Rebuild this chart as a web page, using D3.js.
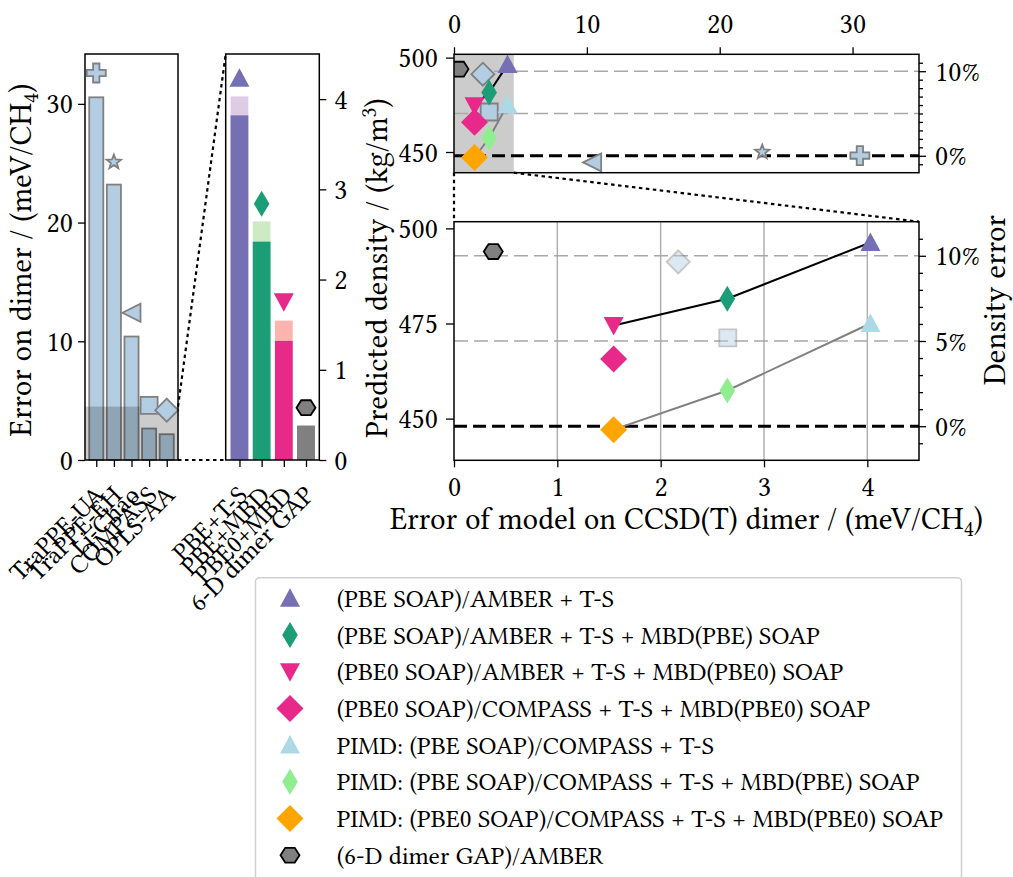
<!DOCTYPE html>
<html>
<head>
<meta charset="utf-8">
<script src="https://cdn.jsdelivr.net/npm/d3@7"></script>
<style>
body { margin: 0; background: #fff; }
</style>
</head>
<body>
<main></main>
<script>
// Force fields (first bar panel)
const ffNames = ['TraPPE-UA', 'TraPPE-EH', 'Li-Chao', 'COMPASS', 'OPLS-AA']
const ffDimerError = [30.55, 23.2, 10.4, 2.65, 2.17]
const ffMarkerError = [32.6, 25.1, 12.4, 4.6, 4.2]
const ffDensity = [448.1, 450.0, 444.5, 471.2, 491.2]

// ML models (second bar panel)
const mlNames = ['PBE+T-S', 'PBE+MBD', 'PBE0+MBD', '6-D dimer GAP']
const mlDimerError = [4.03, 2.645, 1.545, 0.38]
const mlDimerErrorBase = [3.82, 2.42, 1.32, 0.38]
const mlMarkerError = [4.23, 2.84, 1.755, 0.58]

// Density scatter series
const seriesLabels = [
    '(PBE SOAP)/AMBER + T-S',
    '(PBE SOAP)/AMBER + T-S + MBD(PBE) SOAP',
    '(PBE0 SOAP)/AMBER + T-S + MBD(PBE0) SOAP',
    '(PBE0 SOAP)/COMPASS + T-S + MBD(PBE0) SOAP',
    'PIMD: (PBE SOAP)/COMPASS + T-S',
    'PIMD: (PBE SOAP)/COMPASS + T-S + MBD(PBE) SOAP',
    'PIMD: (PBE0 SOAP)/COMPASS + T-S + MBD(PBE0) SOAP',
    '(6-D dimer GAP)/AMBER'
]
const seriesDimerError = [4.03, 2.645, 1.545, 1.545, 4.03, 2.645, 1.545, 0.38]
const seriesDensity = [496.3, 481.5, 474.5, 465.7, 475.0, 457.4, 447.1, 493.9]
const classicalLine = [2, 1, 0]
const pimdLine = [6, 5, 4]
const experimentDensity = 448

// Styles
const seriesColors = ['#7570b3', '#1b9e77', '#e7298a', '#e7298a', '#add8e6', '#90ee90', '#ffa500', '#808080']
const seriesShapes = ['up', 'thin', 'down', 'diamond', 'up', 'thin', 'diamond', 'hex']
const mlColors = ['#7570b3', '#1b9e77', '#e7298a', '#808080']
const mlLightColors = ['#decbe4', '#ccebc5', '#fbb4ae', '#808080']
const mlShapes = ['up', 'thin', 'down', 'hex']
const ffShapes = ['plus', 'star', 'left', 'square', 'ffdiamond']
const ffFill = '#b3cde3'
const ffEdge = '#808080'
const font = '"Libertinus Serif", "Liberation Serif", serif'
const tickFont = 28.5
const categoryFont = 26
const labelFont = 31
const legendFont = 25.4

const shapeSize = {up: 10, down: 10, thin: 13, diamond: 13.5, hex: 9.5,
    plus: 9.5, star: 7.5, left: 9, square: 8.5, ffdiamond: 11.5}

const shape = (type) => {
    const r = shapeSize[type]
    switch (type) {
        case 'up': return `M0,${-r}L${r},${r * 0.85}L${-r},${r * 0.85}Z`
        case 'down': return `M0,${r}L${r},${-r * 0.85}L${-r},${-r * 0.85}Z`
        case 'left': return `M${-r},0L${r},${-r}L${r},${r}Z`
        case 'diamond':
        case 'ffdiamond': return `M0,${-r}L${r},0L0,${r}L${-r},0Z`
        case 'thin': return `M0,${-r}L${r * 0.6},0L0,${r}L${-r * 0.6},0Z`
        case 'square': return `M${-r},${-r}H${r}V${r}H${-r}Z`
        case 'hex': return d3.range(6).map(k => {
            const a = k * Math.PI / 3
            return `${k ? 'L' : 'M'}${r * Math.cos(a)},${r * Math.sin(a) * 0.9}`
        }).join('') + 'Z'
        case 'plus': {
            const a = r / 3
            return `M${-a},${-r}H${a}V${-a}H${r}V${a}H${a}V${r}H${-a}V${a}H${-r}V${-a}H${-a}Z`
        }
        case 'star': return d3.range(10).map(k => {
            const a = -Math.PI / 2 + k * Math.PI / 5
            const rr = k % 2 ? r * 0.42 : r
            return `${k ? 'L' : 'M'}${rr * Math.cos(a)},${rr * Math.sin(a)}`
        }).join('') + 'Z'
    }
}

const svg = d3.select('main')
    .append('svg')
    .attr('width', 1013)
    .attr('height', 877)
    .attr('font-family', font)

const defs = svg.append('defs')

const styleAxis = (g) => {
    g.select('.domain').remove()
    g.attr('font-family', font).attr('font-size', tickFont)
    g.selectAll('.tick line').attr('stroke', '#000').attr('stroke-width', 1.3)
    g.selectAll('.tick text').attr('fill', '#000')
}

const frame = (g, x0, x1, y0, y1) => g.append('rect')
    .attr('x', x0).attr('y', y0)
    .attr('width', x1 - x0).attr('height', y1 - y0)
    .attr('fill', 'none').attr('stroke', '#000').attr('stroke-width', 1.5)

const marker = (g, type, x, y, fill, stroke, sw) => g.append('path')
    .attr('d', shape(type))
    .attr('transform', `translate(${x},${y})`)
    .attr('fill', fill)
    .attr('stroke', stroke || 'none')
    .attr('stroke-width', sw || 0)

// category names, rotated 45 degrees and right-aligned under each tick
const rotatedLabels = (g, names, x, bottom) => {
    g.selectAll(null)
        .data(names)
        .enter()
        .append('text')
        .attr('font-size', categoryFont)
        .attr('text-anchor', 'end')
        .attr('transform', (d, i) => `translate(${x(i) + 9.5},${bottom + 36.5}) rotate(-45)`)
        .text(d => d)
}

const subLabel = (t, main, sub, close, shift) => {
    t.append('tspan').text(main)
    t.append('tspan').attr('font-size', labelFont * 0.7).attr('dy', shift).text(sub)
    t.append('tspan').attr('dy', -shift).text(close)
}

// Panel 1: force-field dimer errors
const p1 = {left: 85, right: 178, top: 54, bottom: 460}
const x1 = d3.scaleLinear().domain([-0.64, 4.64]).range([p1.left, p1.right])
const y1 = d3.scaleLinear().domain([0, 34.2]).range([p1.bottom, p1.top])
const g1 = svg.append('g')
const bw1 = x1(0.8) - x1(0)

g1.selectAll('rect.bar')
    .data(ffDimerError)
    .enter()
    .append('rect')
    .attr('x', (d, i) => x1(i) - bw1 / 2)
    .attr('y', d => y1(d))
    .attr('width', bw1)
    .attr('height', d => y1(0) - y1(d))
    .attr('fill', ffFill)
    .attr('stroke', ffEdge)
    .attr('stroke-width', 1.8)

g1.append('rect')
    .attr('x', p1.left).attr('y', y1(4.5))
    .attr('width', p1.right - p1.left).attr('height', y1(0) - y1(4.5))
    .attr('fill', '#000').attr('fill-opacity', 0.2)

ffMarkerError.forEach((v, i) => marker(g1, ffShapes[i], x1(i), y1(v), ffFill, ffEdge, 1.8))
frame(g1, p1.left, p1.right, p1.top, p1.bottom)

g1.append('g')
    .attr('transform', `translate(${p1.left},0)`)
    .call(d3.axisLeft(y1).tickValues([0, 10, 20, 30]).tickSize(7).tickPadding(5).tickFormat(d3.format('d')))
    .call(styleAxis)
g1.append('g')
    .attr('transform', `translate(0,${p1.bottom})`)
    .call(d3.axisBottom(x1).tickValues(d3.range(ffNames.length)).tickSize(7).tickFormat(''))
    .call(styleAxis)
rotatedLabels(g1, ffNames, x1, p1.bottom)

g1.append('text')
    .attr('transform', `translate(31,${(p1.top + p1.bottom) / 2 + 3}) rotate(-90)`)
    .attr('text-anchor', 'middle')
    .attr('font-size', labelFont)
    .call(subLabel, 'Error on dimer / (meV/CH', '4', ')', 7)

// Panel 2: ML model dimer errors
const p2 = {left: 225.7, right: 319.3, top: 54, bottom: 460}
const x2 = d3.scaleLinear().domain([-0.62, 3.6]).range([p2.left, p2.right])
const y2 = d3.scaleLinear().domain([0, 4.5]).range([p2.bottom, p2.top])
const g2 = svg.append('g')
const bw2 = x2(0.8) - x2(0)

g2.selectAll('rect.light')
    .data(mlDimerError)
    .enter()
    .append('rect')
    .attr('x', (d, i) => x2(i) - bw2 / 2)
    .attr('y', d => y2(d))
    .attr('width', bw2)
    .attr('height', d => y2(0) - y2(d))
    .attr('fill', (d, i) => mlLightColors[i])

g2.selectAll('rect.dark')
    .data(mlDimerErrorBase)
    .enter()
    .append('rect')
    .attr('x', (d, i) => x2(i) - bw2 / 2)
    .attr('y', d => y2(d))
    .attr('width', bw2)
    .attr('height', d => y2(0) - y2(d))
    .attr('fill', (d, i) => mlColors[i])

mlMarkerError.forEach((v, i) => marker(g2, mlShapes[i], x2(i), y2(v), mlColors[i],
    mlShapes[i] === 'hex' ? '#000' : null, 1.8))
frame(g2, p2.left, p2.right, p2.top, p2.bottom)

g2.append('g')
    .attr('transform', `translate(${p2.right},0)`)
    .call(d3.axisRight(y2).tickValues([0, 1, 2, 3, 4]).tickSize(7).tickPadding(8).tickFormat(d3.format('d')))
    .call(styleAxis)
g2.append('g')
    .attr('transform', `translate(0,${p2.bottom})`)
    .call(d3.axisBottom(x2).tickValues(d3.range(mlNames.length)).tickSize(7).tickFormat(''))
    .call(styleAxis)
rotatedLabels(g2, mlNames, x2, p2.bottom)

// zoom connectors between the bar panels
const dotted = (xa, ya, xb, yb) => svg.append('line')
    .attr('x1', xa).attr('y1', ya).attr('x2', xb).attr('y2', yb)
    .attr('stroke', '#000').attr('stroke-width', 2.2)
    .attr('stroke-dasharray', '3.5,3.5')
dotted(p1.right, y1(4.5), p2.left, p2.top)
dotted(p1.right, p1.bottom, p2.left, p2.bottom)

// Panels 3 and 4: predicted density
const yDomain = [experimentDensity * 0.98, experimentDensity * 1.12]
const p3 = {left: 454, right: 919, top: 54.3, bottom: 172.7}
const p4 = {left: 454, right: 919, top: 221.7, bottom: 460.3}
const x3 = d3.scaleLinear().domain([0, 35]).range([p3.left, p3.right])
const y3 = d3.scaleLinear().domain(yDomain).range([p3.bottom, p3.top])
const x4 = d3.scaleLinear().domain([0, 4.5]).range([p4.left, p4.right])
const y4 = d3.scaleLinear().domain(yDomain).range([p4.bottom, p4.top])

const clipped = (p, id) => {
    defs.append('clipPath').attr('id', id)
        .append('rect')
        .attr('x', p.left).attr('y', p.top)
        .attr('width', p.right - p.left).attr('height', p.bottom - p.top)
    return svg.append('g').attr('clip-path', `url(#${id})`)
}

const refLines = (g, p, y) => {
    [10, 5].forEach(pc => g.append('line')
        .attr('x1', p.left).attr('x2', p.right)
        .attr('y1', y(experimentDensity * (1 + pc / 100)))
        .attr('y2', y(experimentDensity * (1 + pc / 100)))
        .attr('stroke', '#a8a8a8').attr('stroke-width', 1.5)
        .attr('stroke-dasharray', '14,6'))
    g.append('line')
        .attr('x1', p.left).attr('x2', p.right)
        .attr('y1', y(experimentDensity)).attr('y2', y(experimentDensity))
        .attr('stroke', '#000').attr('stroke-width', 3)
        .attr('stroke-dasharray', '13,6')
}

const seriesLines = (g, x, y) => {
    const line = d3.line().x(i => x(seriesDimerError[i])).y(i => y(seriesDensity[i]))
    g.append('path').datum(classicalLine).attr('d', line)
        .attr('fill', 'none').attr('stroke', '#000').attr('stroke-width', 2)
    g.append('path').datum(pimdLine).attr('d', line)
        .attr('fill', 'none').attr('stroke', '#808080').attr('stroke-width', 2)
}

const seriesMarkers = (g, x, y) => seriesDensity.forEach((v, i) =>
    marker(g, seriesShapes[i], x(seriesDimerError[i]), y(v), seriesColors[i],
        seriesShapes[i] === 'hex' ? '#000' : null, 1.8))

const percentAxis = (g, p, y, majors) => {
    const pct = d3.scaleLinear().domain([-2, 12]).range(y.range())
    g.append('g')
        .attr('transform', `translate(${p.right},0)`)
        .call(d3.axisRight(pct).tickValues(majors).tickSize(7).tickPadding(9).tickFormat(d => d + '%'))
        .call(styleAxis)
    g.append('g')
        .attr('transform', `translate(${p.right},0)`)
        .call(d3.axisRight(pct).tickValues(d3.range(-1, 12).filter(d => !majors.includes(d))).tickSize(4).tickFormat(''))
        .call(styleAxis)
}

// top overview panel
const g3 = clipped(p3, 'clip3')
g3.append('rect')
    .attr('x', x3(0)).attr('y', p3.top)
    .attr('width', x3(4.5) - x3(0)).attr('height', p3.bottom - p3.top)
    .attr('fill', '#000').attr('fill-opacity', 0.2)
refLines(g3, p3, y3)
seriesLines(g3, x3, y3)
ffDensity.forEach((v, i) => marker(g3, ffShapes[i], x3(ffDimerError[i]), y3(v), ffFill, ffEdge, 1.8))
seriesMarkers(g3, x3, y3)

const a3 = svg.append('g')
frame(a3, p3.left, p3.right, p3.top, p3.bottom)
a3.append('g')
    .attr('transform', `translate(0,${p3.top})`)
    .call(d3.axisTop(x3).tickValues([0, 10, 20, 30]).tickSize(7).tickPadding(14).tickFormat(d3.format('d')))
    .call(styleAxis)
a3.append('g')
    .attr('transform', `translate(${p3.left},0)`)
    .call(d3.axisLeft(y3).tickValues([450, 500]).tickSize(8).tickPadding(8).tickFormat(d3.format('d')))
    .call(styleAxis)
percentAxis(a3, p3, y3, [0, 10])

// zoomed panel
const g4 = clipped(p4, 'clip4')
g4.selectAll('line.grid')
    .data([1, 2, 3, 4])
    .enter()
    .append('line')
    .attr('x1', d => x4(d)).attr('x2', d => x4(d))
    .attr('y1', p4.top).attr('y2', p4.bottom)
    .attr('stroke', '#b0b0b0').attr('stroke-width', 1.5)
refLines(g4, p4, y4)
seriesLines(g4, x4, y4)
ffDensity.forEach((v, i) => marker(g4, ffShapes[i], x4(ffDimerError[i]), y4(v), ffFill, ffEdge, 1.8)
    .attr('opacity', 0.45))
seriesMarkers(g4, x4, y4)

const a4 = svg.append('g')
frame(a4, p4.left, p4.right, p4.top, p4.bottom)
a4.append('g')
    .attr('transform', `translate(0,${p4.bottom})`)
    .call(d3.axisBottom(x4).tickValues([0, 1, 2, 3, 4]).tickSize(7).tickPadding(8).tickFormat(d3.format('d')))
    .call(styleAxis)
a4.append('g')
    .attr('transform', `translate(${p4.left},0)`)
    .call(d3.axisLeft(y4).tickValues([450, 475, 500]).tickSize(8).tickPadding(8).tickFormat(d3.format('d')))
    .call(styleAxis)
percentAxis(a4, p4, y4, [0, 5, 10])

// zoom connectors between density panels
dotted(x3(0), p3.bottom, p4.left, p4.top)
dotted(x3(4.5), p3.bottom, p4.right, p4.top)

svg.append('text')
    .attr('x', (p4.left + p4.right) / 2)
    .attr('y', 529)
    .attr('text-anchor', 'middle')
    .attr('font-size', labelFont)
    .call(subLabel, 'Error of model on CCSD(T) dimer / (meV/CH', '4', ')', 7)

svg.append('text')
    .attr('transform', `translate(387,268) rotate(-90)`)
    .attr('text-anchor', 'middle')
    .attr('font-size', labelFont)
    .call(subLabel, 'Predicted density / (kg/m', '3', ')', -11)

svg.append('text')
    .attr('transform', `translate(1005,300) rotate(-90)`)
    .attr('text-anchor', 'middle')
    .attr('font-size', labelFont)
    .text('Density error')

// Legend
const legend = svg.append('g')
legend.append('rect')
    .attr('x', 255.5).attr('y', 577.7)
    .attr('width', 706).attr('height', 320)
    .attr('rx', 4)
    .attr('fill', '#fff')
    .attr('stroke', '#d0d0d0')
    .attr('stroke-width', 1.5)

seriesLabels.forEach((label, i) => {
    const rowY = 598.3 + i * 36.7
    marker(legend, seriesShapes[i], 290, rowY, seriesColors[i],
        seriesShapes[i] === 'hex' ? '#000' : null, 1.8)
    legend.append('text')
        .attr('x', 336.7)
        .attr('y', rowY + 8.5)
        .attr('font-size', legendFont)
        .text(label)
})

svg.selectAll('text').style('font-family', font).attr('fill', '#000')
</script>
</body>
</html>
